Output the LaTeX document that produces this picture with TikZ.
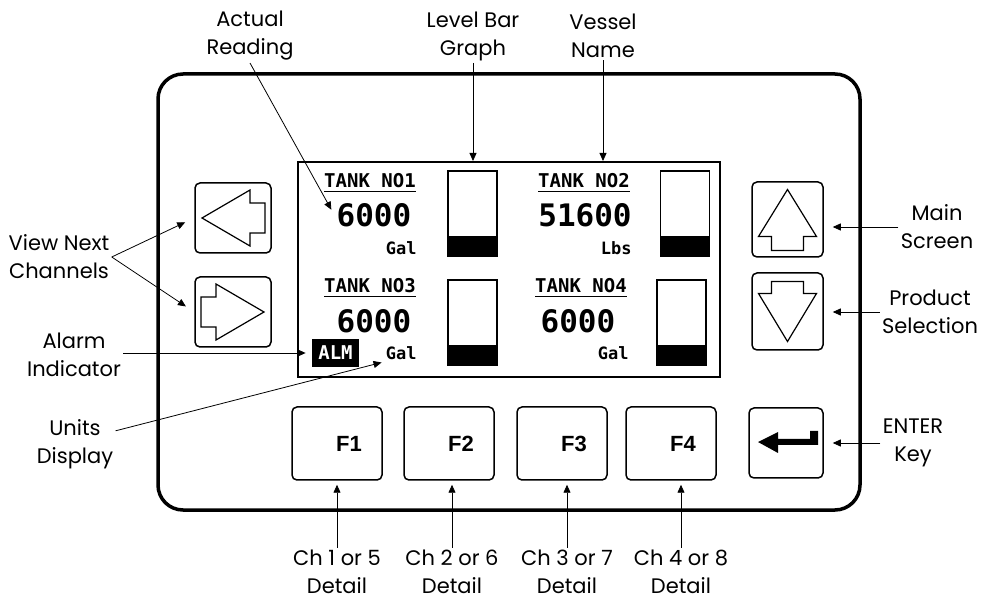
\documentclass[tikz,border=0pt]{standalone}
\usepackage{fontspec}
\setmainfont{Poppins}
\newfontfamily\keyfont{Liberation Sans}
\newfontfamily\lcdfont{DejaVu Sans Mono}
\usetikzlibrary{arrows.meta}

\begin{document}
\begin{tikzpicture}[
    x=0.5pt, y=-0.5pt,
    every node/.style={inner sep=1pt},
    lbl/.style={align=center, font=\fontsize{10.5}{14}\selectfont},
    e/.style={-{Triangle[length=4pt, width=3.5pt]}, line width=0.4pt},
    key/.style={rectangle, draw, rounded corners=2.5pt, line width=0.75pt},
    sym/.style={line width=0.6pt, line join=miter},
    bar/.style={rectangle, draw, line width=0.6pt, minimum width=24.5pt, minimum height=42.5pt},
    lcd/.style={font=\lcdfont\bfseries\fontsize{9.5}{10}\selectfont},
    big/.style={font=\lcdfont\bfseries\fontsize{15.5}{16}\selectfont},
    unit/.style={font=\lcdfont\bfseries\fontsize{8.5}{9}\selectfont, anchor=east},
    fk/.style={font=\keyfont\bfseries\fontsize{11}{12}\selectfont},
  ]
  \useasboundingbox (0,0) rectangle (982,599);
  % housing
  \draw[rounded corners=12.5pt, line width=1.75pt] (158,74) rectangle (860,510);
  \node[draw, line width=1pt, minimum width=211pt, minimum height=107.5pt] (scr) at (509,269.5) {};

  % level bars
  \foreach \n/\x/\y in {b1/472.5/213.5, b2/685/213.5, b3/472.5/322.5, b4/681.5/322.5} {
    \node[bar] (\n) at (\x,\y) {};
    \fill (\n.south west) rectangle ([yshift=10.5pt]\n.south east);
  }

  % screen texts
  \node[lcd] (t1) at (370,183) {\underline{TANK NO1}};
  \node[lcd] (t2) at (584,183) {\underline{TANK NO2}};
  \node[lcd] (t3) at (370,288) {\underline{TANK NO3}};
  \node[lcd] (t4) at (581,288) {\underline{TANK NO4}};
  \node[big] (r1) at (374,215) {6000};
  \node[big] (r2) at (585,215) {51600};
  \node[big] (r3) at (374,321) {6000};
  \node[big] (r4) at (578,321) {6000};
  \node[unit] (g1) at (419,248) {Gal};
  \node[unit] (g2) at (634,248) {Lbs};
  \node[unit] (g3) at (419,353) {Gal};
  \node[unit] (g4) at (631,353) {Gal};
  \node[fill=black, text=white, lcd, minimum width=23.5pt, minimum height=14pt] (alm) at (335.5,353) {ALM};

  % keys
  \node[key, minimum width=38pt, minimum height=35pt] (bl) at (233,218) {};
  \node[key, minimum width=38pt, minimum height=35pt] (br) at (233,312) {};
  \node[key, minimum width=35.5pt, minimum height=37.5pt] (bu) at (787.5,219.5) {};
  \node[key, minimum width=35.5pt, minimum height=38.5pt] (bd) at (787.5,311.5) {};
  \node[key, minimum width=37pt, minimum height=35pt] (ent) at (786,443) {};
  \foreach \n/\x/\t in {f1/337/F1, f2/449/F2, f3/562/F3, f4/671/F4} {
    \node[key, minimum width=45pt, minimum height=36.5pt] (\n) at (\x,443.5) {};
    \node[fk] at ([xshift=6pt]\n.center) {\t};
  }
  \draw[sym, shift={(bl.center)}] (-31,0) -- (17,-28) -- (17,-15) -- (32,-15) -- (32,15) -- (17,15) -- (17,28) -- cycle;
  \draw[sym, shift={(br.center)}] (31,0) -- (-17,-28) -- (-17,-15) -- (-32,-15) -- (-32,15) -- (-17,15) -- (-17,28) -- cycle;
  \draw[sym, shift={(bu.center)}] (0,-30) -- (29,17) -- (16,17) -- (16,31) -- (-16,31) -- (-16,17) -- (-29,17) -- cycle;
  \draw[sym, shift={(bd.center)}] (0,30) -- (29,-18) -- (16,-18) -- (16,-30) -- (-16,-30) -- (-16,-18) -- (-29,-18) -- cycle;
  \fill[shift={(ent.center)}] (-28,-1) -- (-8,-11) -- (-8,-4) -- (24,-4) -- (24,-12) -- (32,-12) -- (32,2) -- (-8,2) -- (-8,10) -- cycle;

  % labels
  \node[lbl] (ar) at (250,36) {Actual\\Reading};
  \node[lbl] (lb) at (473,36) {Level Bar\\Graph};
  \node[lbl] (vsl) at (603,36) {Vessel\\Name};
  \node[lbl] (vnx) at (59,257) {View Next\\Channels};
  \node[lbl] (al) at (74,355) {Alarm\\Indicator};
  \node[lbl] (ud) at (75,444) {Units\\Display};
  \node[lbl] (ms) at (937,227) {Main\\Screen};
  \node[lbl] (ps) at (930,312) {Product\\Selection};
  \node[lbl] (ek) at (913,443) {ENTER\\Key};
  \node[lbl] (c1) at (337,572) {Ch 1 or 5\\Detail};
  \node[lbl] (c2) at (452,572) {Ch 2 or 6\\Detail};
  \node[lbl] (c3) at (567,572) {Ch 3 or 7\\Detail};
  \node[lbl] (c4) at (681,572) {Ch 4 or 8\\Detail};

  % leaders
  \draw[e, shorten >=3pt] (ar.south) -- (r1.west);
  \draw[e] (lb.south) -- (lb.south |- scr.north);
  \draw[e] (vsl.south) -- (vsl.south |- scr.north);
  \draw[e, shorten >=5pt] (vnx.east) -- (bl.west);
  \draw[e, shorten >=5pt] (vnx.east) -- (br.west);
  \draw[e, shorten >=3pt] (al.east |- alm.west) -- (alm.west);
  \draw[e, shorten >=1pt] (ud.18) -- (g3.south west);
  \draw[e, shorten >=4.5pt] (ms.west) -- (ms.west -| bu.east);
  \draw[e, shorten >=4.5pt] (ps.west) -- (ps.west -| bd.east);
  \draw[e, shorten >=4.5pt] (ek.west) -- (ek.west -| ent.east);
  \foreach \c/\f in {c1/f1, c2/f2, c3/f3, c4/f4}
    \draw[e, shorten >=2pt] (\c.north) -- (\c.north |- \f.south);
\end{tikzpicture}
\end{document}
